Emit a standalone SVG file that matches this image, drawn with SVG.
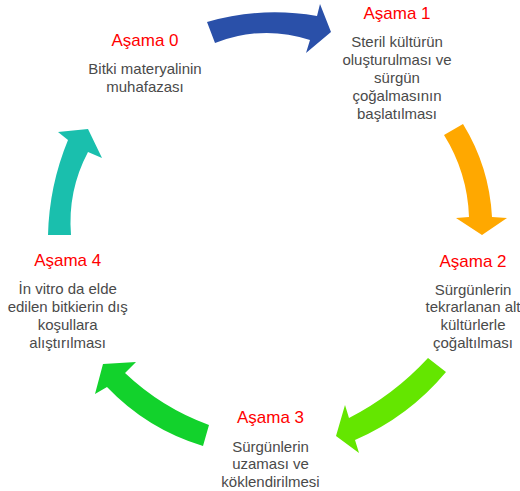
<svg xmlns="http://www.w3.org/2000/svg" width="520" height="491" viewBox="0 0 520 491">
<style>
.t{font-family:"Liberation Sans",Arial,sans-serif;font-size:17px;fill:#ff0000;text-anchor:middle}
.b{font-family:"Liberation Sans",Arial,sans-serif;font-size:15px;fill:#4a4a4a;text-anchor:middle}
</style>
<rect width="520" height="491" fill="#ffffff"/>
<g id="connectors">
<path id="arrow-0-1" fill="#2a50a9" d="M207,22 Q261.3,6.3 317,16 L320,4 L331,32 L306,53 L310,40 Q262.5,24.5 215,43 Z"/>
<path id="arrow-1-2" fill="#ffa800" d="M463,124 Q489.3,166.8 492,217 L507,218 L482,235 L456,218 L469,217 Q467.5,172.7 444,135 Z"/>
<path id="arrow-2-3" fill="#64e600" d="M428,358 L446,372 Q408.6,416.8 355,440 L359,453 L336,436 L345,405 L349,418 Q393.8,395 428,358 Z"/>
<path id="arrow-3-4" fill="#12d22c" d="M209,425 L203,446 Q147,429 107,387 L95,394 L103,364 L136,362 L125,373 Q161.6,407.7 209,425 Z"/>
<path id="arrow-4-0" fill="#1abfad" d="M48,235 L71,235 Q67.4,191 88,152 L102,158 L88,129 L58,132 L68,140 Q49.2,185.6 48,235 Z"/>
</g>
<g id="asama0">
<text class="t" x="145" y="46">Aşama 0</text>
<text class="b" x="145" y="74">Bitki materyalinin</text>
<text class="b" x="145" y="92">muhafazası</text>
</g>
<g id="asama1">
<text class="t" x="397" y="19">Aşama 1</text>
<text class="b" x="397" y="47.3">Steril kültürün</text>
<text class="b" x="397" y="65.2">oluşturulması ve</text>
<text class="b" x="397" y="83.1">sürgün</text>
<text class="b" x="397" y="101">çoğalmasının</text>
<text class="b" x="397" y="118.9">başlatılması</text>
</g>
<g id="asama2">
<text class="t" x="473" y="266.5">Aşama 2</text>
<text class="b" x="473" y="294.5">Sürgünlerin</text>
<text class="b" x="473" y="312.4">tekrarlanan alt</text>
<text class="b" x="473" y="330.3">kültürlerle</text>
<text class="b" x="473" y="348.2">çoğaltılması</text>
</g>
<g id="asama3">
<text class="t" x="270.5" y="423.3">Aşama 3</text>
<text class="b" x="270.5" y="451.5">Sürgünlerin</text>
<text class="b" x="270.5" y="469.4">uzaması ve</text>
<text class="b" x="270.5" y="487.3">köklendirilmesi</text>
</g>
<g id="asama4">
<text class="t" x="67.7" y="265.7">Aşama 4</text>
<text class="b" x="67.7" y="294">İn vitro da elde</text>
<text class="b" x="67.7" y="311.9">edilen bitkierin dış</text>
<text class="b" x="67.7" y="329.8">koşullara</text>
<text class="b" x="67.7" y="347.7">alıştırılması</text>
</g>
</svg>
